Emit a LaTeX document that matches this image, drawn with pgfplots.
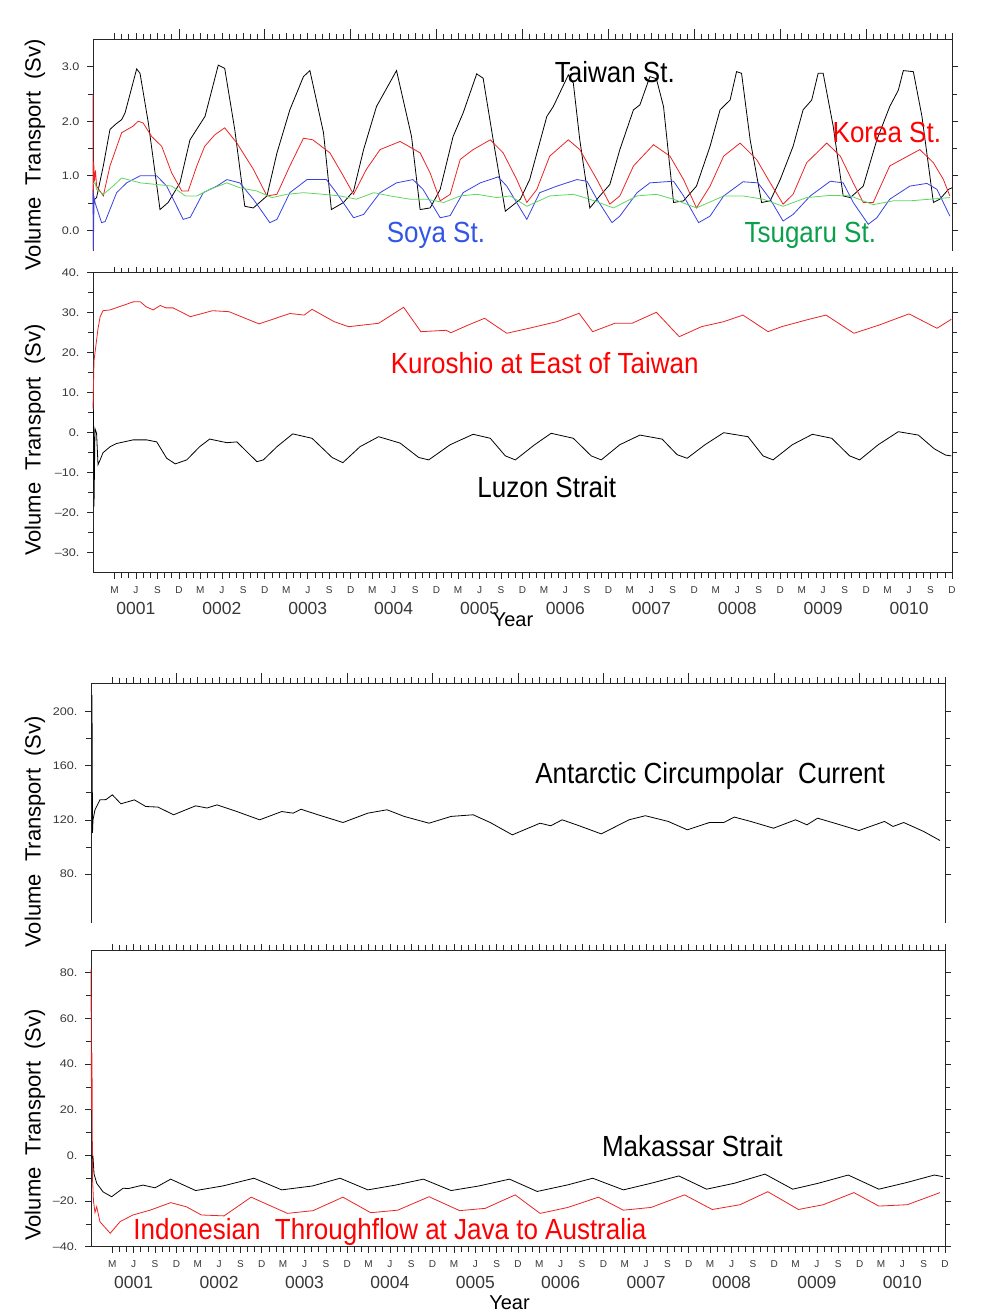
\documentclass[border=0pt]{standalone}
\usepackage{fontspec}
\setmainfont{Liberation Sans}
\usepackage{pgfplots}
\usepackage{graphicx}
\pgfplotsset{compat=1.18}

\definecolor{kred}{RGB}{235,35,35}
\definecolor{sblue}{RGB}{55,65,225}
\definecolor{tgreen}{RGB}{95,215,95}
\definecolor{lblue}{RGB}{50,85,230}
\definecolor{lgreen}{RGB}{10,160,75}
\definecolor{tk}{RGB}{55,55,55}

\newcommand{\yr}{\fontsize{17.5}{18}\selectfont}
\newcommand{\lab}[1]{\scalebox{1}[1.12]{\fontsize{26}{28}\selectfont #1}}

\pgfplotsset{
  ga/.style={
    scale only axis, xmin=0, xmax=120, clip=false,
    xtick={3,6,...,120}, minor x tick num=2,
    tick align=outside, major tick length=6pt, minor tick length=5pt,
    every tick/.style={black!85, line width=0.7pt},
    axis line style={black!85, line width=0.9pt},
    tick label style={text=tk},
    yticklabel style={font=\fontsize{11}{11}\selectfont, xscale=1.15, xshift=-3pt},
    xticklabel style={font=\fontsize{10}{10}\selectfont, yshift=-4pt},
    ylabel={Volume\ \ Transport\ \ (Sv)},
    ylabel style={font=\fontsize{22}{22}\selectfont, anchor=center},
    minor y tick num=1,
    every axis plot/.append style={line width=0.8pt},
  },
  topax/.style={
    axis x line*=top, xticklabels={},
    extra x ticks={12,24,...,108}, extra x tick labels={},
    extra x tick style={major tick length=10pt},
  },
  botax/.style={
    xticklabels={M,J,S,D,M,J,S,D,M,J,S,D,M,J,S,D,M,J,S,D,M,J,S,D,M,J,S,D,M,J,S,D,M,J,S,D,M,J,S,D},
    extra x ticks={6,18,...,114},
    extra x tick labels={0001,0002,0003,0004,0005,0006,0007,0008,0009,0010},
    extra x tick style={major tick length=0pt, xticklabel style={font=\yr, yshift=-22pt}},
    xlabel={Year},
    xlabel style={font=\fontsize{20}{20}\selectfont, anchor=center},
  },
}

\begin{document}
\begin{tikzpicture}
\useasboundingbox (0,0) rectangle (1006pt,1313pt);

% ---------------- Panel 1 ----------------
\begin{axis}[ga, topax, at={(93pt,1062pt)}, anchor=south west,
  width=859pt, height=212pt, ymin=-0.38, ymax=3.51,
  ytick={0,1,2,3}, yticklabels={0.0,1.0,2.0,3.0},
  ylabel style={at={(axis description cs:-0.0675,0.453)}}]
\addplot[black] coordinates {
(0.1,0.55)(0.5,0.6)(1.44,1.18)(2.37,1.85)(3.2,1.95)(4.0,2.03)(4.47,2.15)(6.1,2.96)(6.57,2.88)
(7.73,1.97)(9.36,0.38)(10.5,0.51)(12.15,0.87)(13.55,1.66)(15.65,2.09)(17.5,3.03)(18.4,2.97)
(19.8,1.85)(21.2,0.44)(22.4,0.41)(24.3,0.63)(25.7,1.42)(27.5,2.21)(29.4,2.82)(30.3,2.93)
(32.2,1.79)(33.3,0.38)(35.0,0.51)(36.4,0.72)(37.8,1.48)(39.6,2.27)(42.4,2.93)(44.5,1.72)
(45.7,0.38)(47.1,0.41)(48.5,0.75)(50.3,1.72)(51.7,2.15)(53.6,2.87)(54.5,2.79)(55.9,1.66)
(57.6,0.35)(59.7,0.57)(61.0,0.93)(63.4,2.09)(64.3,2.27)(66.4,2.85)(67.1,2.7)(68.0,1.66)
(69.4,0.41)(70.8,0.63)(72.2,0.84)(73.6,1.48)(75.5,2.21)(76.4,2.3)(77.8,2.82)(78.7,2.78)
(79.7,2.27)(81.1,0.51)(82.5,0.54)(84.3,0.81)(86.2,1.54)(87.6,2.21)(89.0,2.39)(89.9,2.91)
(90.6,2.88)(91.8,1.66)(93.4,0.51)(94.6,0.54)(96.0,0.93)(97.8,1.54)(99.2,2.21)(100.4,2.39)
(101.3,2.88)(102.0,2.88)(103.4,1.91)(104.8,0.63)(105.8,0.6)(107.6,0.81)(109.5,1.66)
(111.3,2.27)(112.5,2.57)(113.2,2.93)(114.6,2.91)(115.8,2.09)(117.4,0.51)(118.3,0.57)(119.5,0.75)(120,0.78)
};
\addplot[kred] coordinates {
(0,2.5)(0.03,-0.38)(0.1,1.25)(0.2,0.9)(0.35,1.1)(0.5,0.81)(1.44,0.63)(2.37,1.18)(4.0,1.79)
(5.6,1.91)(6.3,2.0)(7.0,1.97)(8.2,1.72)(9.6,1.54)(11.0,1.05)(12.4,0.72)(13.3,0.72)(14.5,1.18)
(15.6,1.54)(17.0,1.75)(18.4,1.88)(20.1,1.6)(22.4,1.12)(24.3,0.63)(25.7,0.66)(27.5,1.18)(29.4,1.69)
(30.7,1.66)(33.1,1.42)(35.0,0.99)(36.4,0.66)(38.2,1.12)(40.1,1.48)(42.9,1.63)(45.7,1.42)
(47.1,1.05)(48.5,0.54)(49.9,0.66)(51.3,1.3)(53.1,1.48)(55.5,1.66)(57.3,1.42)(59.2,0.93)
(60.6,0.51)(62.0,0.75)(63.8,1.36)(66.4,1.66)(68.0,1.48)(70.4,0.93)(72.2,0.48)(73.6,0.63)
(75.5,1.18)(78.3,1.57)(80.6,1.36)(82.5,0.93)(84.3,0.41)(86.2,0.81)(88.1,1.36)(90.4,1.6)
(92.7,1.3)(94.6,0.87)(96.4,0.48)(97.8,0.66)(99.7,1.24)(102.5,1.6)(104.4,1.36)(106.2,0.87)
(107.6,0.51)(109.0,0.51)(111.3,1.18)(115.5,1.48)(117.4,1.24)(118.8,0.93)(119.7,0.63)
};
\addplot[sblue] coordinates {
(0,0.75)(0.05,-0.35)(0.15,0.6)(0.3,0.5)(1.2,0.14)(1.7,0.16)(3.3,0.69)(4.7,0.87)(6.6,1.0)
(8.9,1.0)(10.3,0.81)(12.6,0.2)(13.6,0.24)(15.4,0.69)(17.3,0.81)(18.7,0.93)(20.5,0.87)
(22.4,0.57)(24.7,0.14)(25.7,0.2)(27.5,0.69)(29.9,0.93)(32.6,0.93)(34.0,0.69)(36.4,0.23)
(37.8,0.29)(40.1,0.69)(42.4,0.87)(44.7,0.93)(46.1,0.75)(48.5,0.23)(49.9,0.27)(51.7,0.69)
(54.1,0.87)(56.6,0.98)(57.8,0.81)(60.6,0.2)(62.4,0.69)(64.8,0.81)(67.6,0.93)(69.0,0.9)
(70.4,0.57)(72.5,0.14)(73.6,0.26)(76.0,0.69)(77.8,0.87)(81.1,0.9)(82.5,0.63)(84.6,0.14)
(86.2,0.26)(88.1,0.63)(90.8,0.89)(92.9,0.87)(94.6,0.57)(96.4,0.17)(97.8,0.29)(100.2,0.63)
(103.0,0.9)(104.8,0.87)(106.2,0.51)(108.3,0.11)(109.5,0.23)(111.3,0.57)(114.1,0.81)
(116.5,0.86)(117.9,0.75)(119.7,0.26)
};
\addplot[tgreen] coordinates {
(0,0.85)(0.3,0.87)(0.5,0.75)(1.44,0.66)(2.8,0.81)(4.0,0.96)(6.6,0.87)(8.9,0.84)(11.0,0.81)
(12.9,0.63)(14.5,0.63)(16.3,0.75)(18.7,0.87)(20.5,0.78)(22.9,0.72)(25.0,0.6)(27.1,0.66)
(29.4,0.69)(32.2,0.66)(34.5,0.63)(36.8,0.57)(39.2,0.69)(41.5,0.63)(44.3,0.57)(46.6,0.57)
(49.0,0.51)(51.3,0.63)(53.6,0.66)(56.4,0.6)(58.3,0.63)(60.6,0.44)(63.8,0.63)(67.1,0.66)
(69.4,0.57)(72.7,0.41)(76.0,0.63)(78.7,0.66)(81.1,0.57)(84.3,0.41)(88.1,0.63)(90.8,0.63)
(93.6,0.57)(96.4,0.44)(99.7,0.6)(103.0,0.64)(105.8,0.63)(109.0,0.47)(111.8,0.54)(114.1,0.54)
(116.9,0.57)(119.7,0.6)
};
\node at (axis cs:72.9,2.91) {\lab{Taiwan St.}};
\node[text={rgb,255:red,255;green,0;blue,0}] at (axis cs:110.9,1.79) {\lab{Korea St.}};
\node[text=lblue] at (axis cs:47.9,-0.09) {\lab{Soya St.}};
\node[text=lgreen] at (axis cs:100.2,-0.09) {\lab{Tsugaru St.}};
\end{axis}

% ---------------- Panel 2 ----------------
\begin{axis}[ga, botax, at={(93pt,740.3pt)}, anchor=south west,
  width=859pt, height=300pt, ymin=-35, ymax=40,
  ytick={-30,-20,...,40},
  yticklabels={–30.,–20.,–10.,0.,10.,20.,30.,40.},
  ylabel style={at={(axis description cs:-0.0675,0.442)}},
  xlabel style={at={(axis description cs:0.489,0)}, yshift=-47pt}]
\addplot[kred] coordinates {
(0,6)(0.14,18)(0.42,22)(0.7,26)(1.0,29)(1.4,30.5)(2.4,30.7)(3.2,31.2)(4.5,32)(5.6,32.7)
(6.6,32.75)(7.4,31.5)(8.4,30.7)(9.4,31.8)(10.2,31.2)(11.2,31.2)(13.6,29)(16.7,30.5)(19.0,30.25)
(23.2,27.2)(27.5,29.8)(29.5,29.4)(30.6,30.85)(33.7,27.75)(35.7,26.5)(39.9,27.35)(43.4,31.35)
(45.8,25.25)(49.3,25.6)(50.0,25.0)(52.4,26.9)(54.7,28.6)(57.8,24.85)(60.9,26.1)(64.8,27.75)
(67.9,29.85)(69.8,25.25)(72.9,27.35)(75.3,27.35)(78.7,30.1)(81.9,24.0)(85.0,26.5)(88.1,27.75)
(90.8,29.4)(94.3,25.25)(96.2,26.5)(99.7,28.2)(102.4,29.4)(106.3,24.85)(109.8,26.9)(114.0,29.7)
(117.9,26.1)(119.9,28.35)
};
\addplot[black] coordinates {
(0.07,5.6)(0.14,-18.5)(0.28,1)(0.5,-0.15)(0.7,-8)(1.0,-6.8)(1.4,-5)(2.4,-3.5)(3.3,-2.7)
(5.6,-1.8)(7.5,-1.8)(8.9,-2.3)(10.3,-6.4)(11.5,-7.8)(13.1,-6.8)(14.9,-3.5)(16.3,-1.6)
(18.7,-2.5)(20.1,-2.3)(22.9,-7.25)(23.8,-6.8)(25.7,-3.5)(27.9,-0.3)(30.6,-1.4)(33.4,-6.2)(34.9,-7.5)
(37.3,-3.5)(39.9,-1)(42.9,-2.6)(45.5,-6.2)(46.9,-6.8)(49.9,-3)(53.1,-0.4)(55.5,-1.4)(57.6,-5.8)(59.0,-6.8)
(61.7,-3)(64.0,-0.15)(67.1,-1.4)(69.6,-5.8)(71.0,-6.8)(73.6,-3)(76.4,-0.6)(79.5,-1.6)(81.6,-5.5)(83.0,-6.4)
(85.5,-3)(88.1,0)(91.5,-1)(93.6,-5.8)(95.0,-6.8)(97.7,-3)(100.5,-0.4)(103.2,-1.4)(105.7,-5.8)(107.1,-6.8)
(109.7,-3)(112.5,0.25)(115.3,-0.6)(117.5,-4)(119.1,-5.6)(119.9,-5.8)
};
\node[text={rgb,255:red,255;green,0;blue,0}] at (axis cs:63.1,17.4) {\lab{Kuroshio at East of Taiwan}};
\node at (axis cs:63.4,-13.6) {\lab{Luzon Strait}};
\end{axis}

% ---------------- Panel 3 ----------------
\begin{axis}[ga, topax, at={(91pt,390pt)}, anchor=south west,
  width=854pt, height=240pt, ymin=44, ymax=221,
  ytick={80,120,160,200}, yticklabels={80.,120.,160.,200.},
  ylabel style={at={(axis description cs:-0.0656,0.38)}}]
\addplot[black] coordinates {
(0.14,212)(0.21,110.5)(0.28,120)(0.56,127.5)(1.26,134.8)(2.1,135)(3.0,138.5)(4.2,131.9)
(6.1,134.8)(7.7,129.9)(9.4,129.5)(11.6,123.8)(14.7,130.4)(16.3,128.8)(17.7,131.1)(20.5,126.2)
(23.7,120.1)(26.8,126.2)(28.4,125)(29.5,127.9)(31.9,123.8)(35.4,118.1)(38.9,125)(41.6,127.5)
(44.0,122.6)(47.5,117.6)(50.6,122.6)(53.7,123.8)(56.1,118.1)(59.2,109)(63.1,117.6)(64.6,115.7)
(66.2,120.1)(68.6,115.7)(71.7,109.7)(75.6,120.1)(77.9,123.1)(81.1,118.9)(83.8,112.7)(86.9,118.1)
(88.9,118.1)(90.4,122.1)(92.7,118.9)(95.9,113.9)(99.0,120.1)(100.6,116.4)(102.1,121.3)
(104.5,117.6)(107.9,112.2)(111.5,118.9)(112.7,115.2)(114.2,118.1)(117.0,111.5)(119.3,104.8)
};
\node at (axis cs:87.0,152.5) {\lab{Antarctic Circumpolar\ \ Current}};
\end{axis}

% ---------------- Panel 4 ----------------
\begin{axis}[ga, botax, at={(91pt,66.3pt)}, anchor=south west,
  width=854pt, height=296.7pt, ymin=-40, ymax=90,
  ytick={-40,-20,...,80},
  yticklabels={–40.,–20.,0.,20.,40.,60.,80.},
  ylabel style={at={(axis description cs:-0.0656,0.41)}},
  xlabel style={at={(axis description cs:0.49,0)}, yshift=-56pt}]
\addplot[kred] coordinates {
(0,81.5)(0.07,20)(0.14,45)(0.21,-10)(0.35,-20)(0.56,-25)(0.8,-22.5)(1.26,-29.1)(2.7,-34.1)
(4.1,-29)(5.9,-26.1)(8.3,-24)(11.2,-20.7)(13.4,-22.5)(15.5,-26.1)(18.7,-26.5)(22.5,-18.3)
(27.6,-25.4)(31.2,-24.2)(35.4,-18.3)(39.3,-25.1)(43.1,-24)(47.5,-18.1)(51.8,-24.2)(55.4,-23.2)
(59.6,-17.3)(63.1,-25.4)(67.0,-22.8)(71.3,-18.3)(74.8,-24)(78.7,-22.8)(83.4,-17.3)(87.3,-23.7)
(91.2,-21.6)(95.1,-15.9)(99.4,-23.7)(102.9,-21.6)(107.2,-16.3)(110.7,-22.2)(114.7,-21.6)(119.3,-16.3)
};
\addplot[black] coordinates {
(0.07,0)(0.14,-1)(0.28,-0.5)(0.42,-8)(0.8,-12.2)(1.7,-16)(2.9,-18.1)(4.5,-14.4)(5.3,-14.5)
(7.3,-13)(9.0,-14.2)(11.2,-10.4)(14.7,-15.4)(18.5,-13.4)(22.9,-10)(26.8,-15.1)(31.1,-13.4)
(35.0,-10)(38.9,-15.1)(42.8,-13)(46.7,-10.4)(50.6,-15.4)(54.5,-13.4)(58.8,-10.4)(62.7,-15.8)
(67.0,-12.9)(70.5,-10)(74.8,-15.1)(78.7,-12.2)(82.6,-9)(86.5,-14.8)(90.4,-12.2)(94.7,-8.2)
(98.6,-14.8)(102.2,-12.2)(106.4,-8.6)(110.7,-14.8)(114.6,-11.9)(118.5,-8.6)(119.7,-9.3)
};
\node at (axis cs:84.5,4.2) {\lab{Makassar Strait}};
\node[text={rgb,255:red,255;green,0;blue,0}] at (axis cs:42.0,-33.6) {\lab{Indonesian\ \ Throughflow at Java to Australia}};
\end{axis}
\end{tikzpicture}
\end{document}
